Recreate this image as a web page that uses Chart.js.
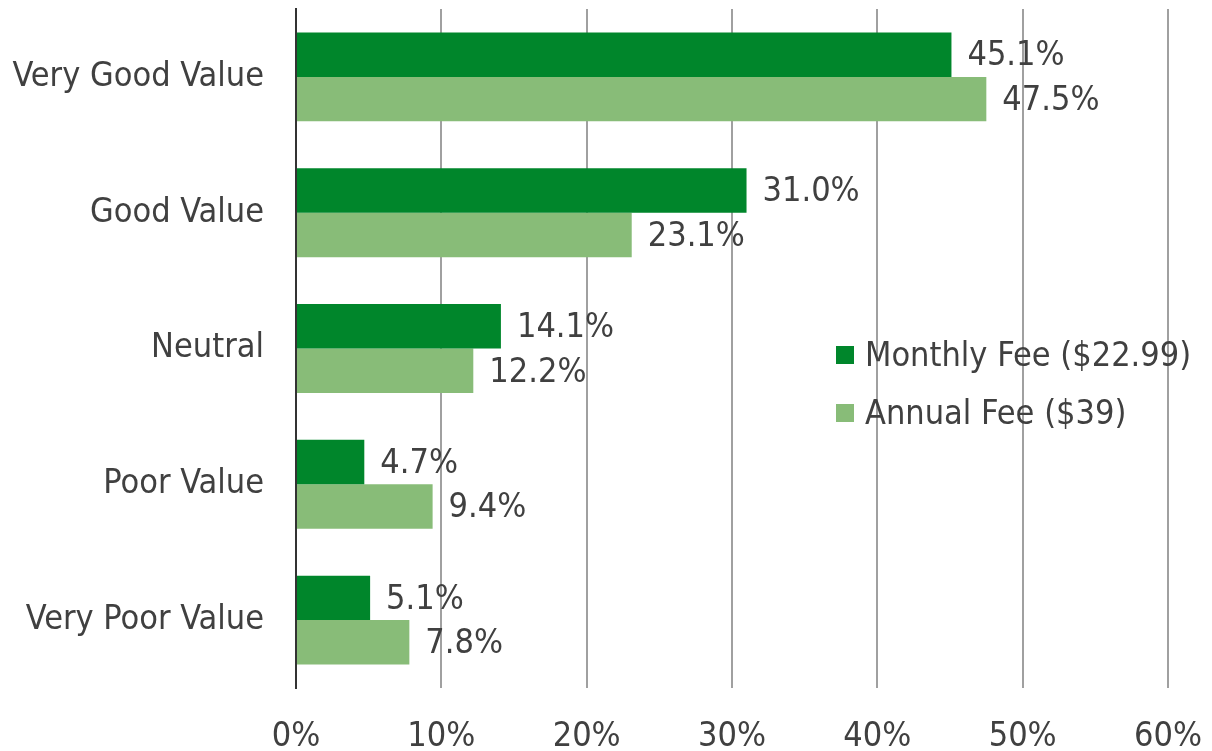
<!DOCTYPE html>
<html>
<head>
<meta charset="utf-8">
<script src="https://cdn.jsdelivr.net/npm/chart.js@4"></script>
<style>
  html, body { margin: 0; padding: 0; background: #fff; }
  #wrap { width: 1212px; height: 751px; }
</style>
</head>
<body>
<div id="wrap"><canvas id="barChart" width="1212" height="751"></canvas></div>
<script>
// data
const categories = ['Very Good Value', 'Good Value', 'Neutral', 'Poor Value', 'Very Poor Value'];
const monthlyFee = [45.1, 31.0, 14.1, 4.7, 5.1];
const annualFee = [47.5, 23.1, 12.2, 9.4, 7.8];
const seriesNames = ['Monthly Fee ($22.99)', 'Annual Fee ($39)'];
const xTicks = [0, 10, 20, 30, 40, 50, 60];

const textColor = '#404040';
const fontFamily = '"DejaVu Sans Condensed", Tahoma, sans-serif';
const fontSize = 34;

// value labels at the end of each bar
const barLabels = {
  id: 'barLabels',
  afterDatasetsDraw(chart) {
    const ctx = chart.ctx;
    ctx.save();
    ctx.font = fontSize + 'px ' + fontFamily;
    ctx.fillStyle = textColor;
    ctx.textBaseline = 'middle';
    ctx.textAlign = 'left';
    chart.data.datasets.forEach((ds, i) => {
      chart.getDatasetMeta(i).data.forEach((bar, j) => {
        ctx.fillText(ds.data[j].toFixed(1) + '%', bar.x + 16, bar.y + 2);
      });
    });
    ctx.restore();
  }
};

// legend drawn inside the plot, right side
const innerLegend = {
  id: 'innerLegend',
  afterDraw(chart) {
    const ctx = chart.ctx;
    ctx.save();
    ctx.font = fontSize + 'px ' + fontFamily;
    ctx.textBaseline = 'middle';
    chart.data.datasets.forEach((ds, i) => {
      const y = 355 + i * 58;
      ctx.fillStyle = ds.backgroundColor;
      ctx.fillRect(836, y - 9, 18, 18);
      ctx.fillStyle = textColor;
      ctx.fillText(ds.label, 865, y + 2);
    });
    ctx.restore();
  }
};

new Chart(document.getElementById('barChart'), {
  type: 'bar',
  data: {
    labels: categories,
    datasets: [
      { label: seriesNames[0], data: monthlyFee, backgroundColor: '#00862B' },
      { label: seriesNames[1], data: annualFee, backgroundColor: '#88BC78' }
    ]
  },
  options: {
    indexAxis: 'y',
    responsive: false,
    animation: false,
    categoryPercentage: 0.655,
    barPercentage: 1.0,
    layout: { padding: { top: 9, right: 44, left: 0, bottom: 0 } },
    plugins: {
      legend: { display: false },
      tooltip: { enabled: false }
    },
    scales: {
      x: {
        min: 0,
        max: 60,
        afterBuildTicks(scale) {
          scale.ticks = xTicks.map(v => ({ value: v }));
        },
        afterFit(scale) {
          scale.height = 63;
          scale.paddingLeft = 0;
          scale.paddingRight = 0;
        },
        grid: { color: '#a0a0a0', lineWidth: 2, drawTicks: false },
        border: { display: false },
        ticks: {
          color: textColor,
          padding: 29,
          font: { family: fontFamily, size: fontSize },
          callback: v => v + '%'
        }
      },
      y: {
        afterFit(scale) {
          scale.width = 296;
          scale.paddingTop = 0;
          scale.paddingBottom = 0;
        },
        grid: { display: false },
        border: { color: '#333333', width: 2 },
        ticks: {
          color: textColor,
          padding: 24,
          font: { family: fontFamily, size: fontSize }
        }
      }
    }
  },
  plugins: [barLabels, innerLegend]
});
</script>
</body>
</html>
